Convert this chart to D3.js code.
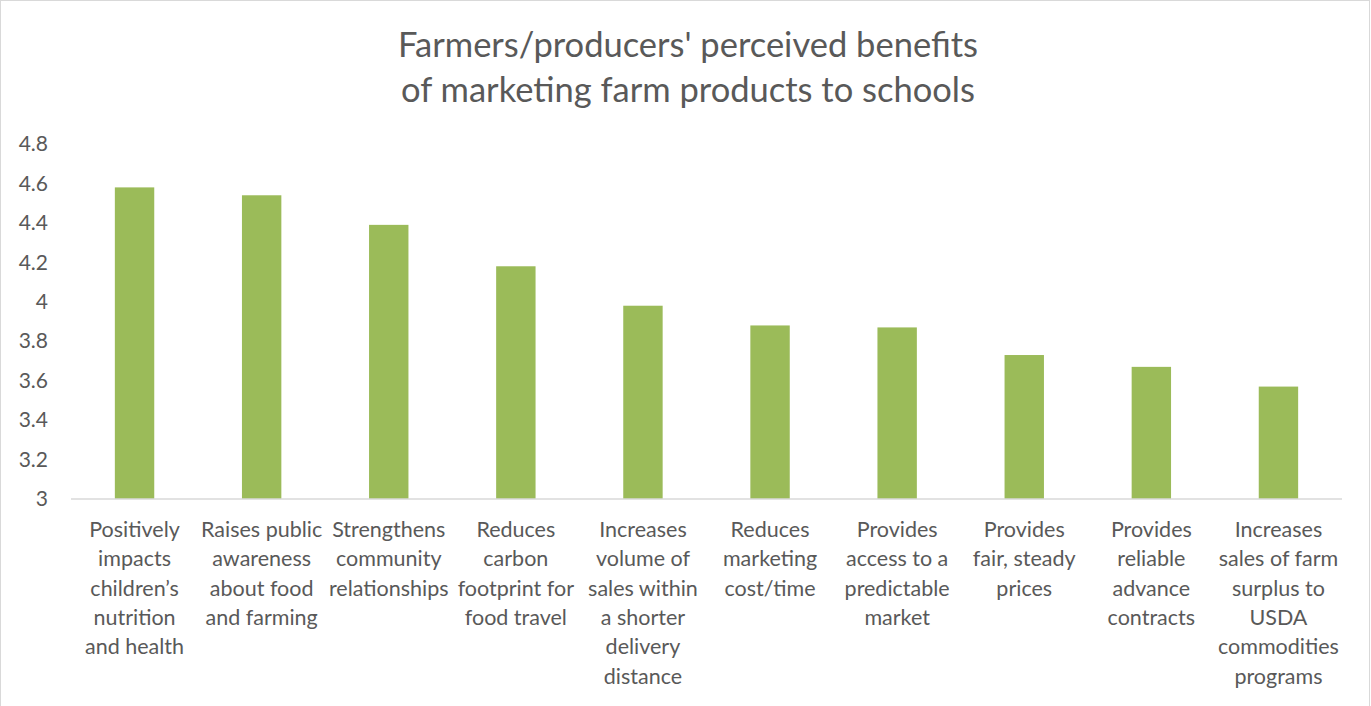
<!DOCTYPE html>
<html>
<head>
<meta charset="utf-8">
<script src="https://cdnjs.cloudflare.com/ajax/libs/d3/7.8.5/d3.min.js"></script>
<style>
	body { margin: 0; background: #fff; }
	svg text { font-family: Lato, "Open Sans", sans-serif; fill: #595959; }
</style>
</head>
<body>
<div id="chart"></div>
<script>
// chart data
const titleLines = ["Farmers/producers' perceived benefits", 'of marketing farm products to schools'];
const categories = [
	['Positively', 'impacts', 'children\u2019s', 'nutrition', 'and health'],
	['Raises public', 'awareness', 'about food', 'and farming'],
	['Strengthens', 'community', 'relationships'],
	['Reduces', 'carbon', 'footprint for', 'food travel'],
	['Increases', 'volume of', 'sales within', 'a shorter', 'delivery', 'distance'],
	['Reduces', 'marketing', 'cost/time'],
	['Provides', 'access to a', 'predictable', 'market'],
	['Provides', 'fair, steady', 'prices'],
	['Provides', 'reliable', 'advance', 'contracts'],
	['Increases', 'sales of farm', 'surplus to', 'USDA', 'commodities', 'programs']
];
const values = [4.58, 4.54, 4.39, 4.18, 3.98, 3.88, 3.87, 3.73, 3.67, 3.57];
const yTicks = [3, 3.2, 3.4, 3.6, 3.8, 4, 4.2, 4.4, 4.6, 4.8];

const width = 1371, height = 706;
const margin = {top: 144, right: 29, bottom: 207, left: 71};

const svg = d3.select('#chart').append('svg')
	.attr('width', width)
	.attr('height', height);

// chart border
svg.append('rect')
	.attr('x', 0.5).attr('y', 0.5)
	.attr('width', width - 2).attr('height', height + 5)
	.attr('fill', 'none')
	.attr('stroke', '#d9d9d9');

// title
svg.append('text')
	.attr('x', 688).attr('y', 57)
	.attr('text-anchor', 'middle')
	.style('font-size', '34.5px')
	.selectAll('tspan')
	.data(titleLines)
	.enter().append('tspan')
		.attr('x', 688)
		.attr('dy', (d, i) => i ? 45 : 0)
		.text(d => d);

// scales
const x = d3.scaleBand()
	.domain(d3.range(categories.length))
	.range([margin.left, width - margin.right])
	.paddingInner(0.69)
	.paddingOuter(0.345);

const y = d3.scaleLinear()
	.domain([3, 4.8])
	.range([height - margin.bottom, margin.top]);

// bars
svg.append('g')
	.selectAll('rect')
	.data(values)
	.enter().append('rect')
		.attr('x', (d, i) => x(i))
		.attr('y', d => y(d))
		.attr('width', x.bandwidth())
		.attr('height', d => y(3) - y(d))
		.attr('fill', '#9bbb59');

// y axis labels (no line, no ticks)
const yAxis = svg.append('g')
	.attr('transform', `translate(${margin.left},0)`)
	.call(d3.axisLeft(y).tickValues(yTicks).tickFormat(d3.format('')).tickSize(0).tickPadding(23));
yAxis.select('.domain').remove();
yAxis.selectAll('text')
	.style('font-size', '21px')
	.style('font-family', 'Lato, sans-serif')
	.attr('fill', '#595959');

// x axis line
svg.append('line')
	.attr('x1', margin.left).attr('x2', width - margin.right)
	.attr('y1', y(3)).attr('y2', y(3))
	.attr('stroke', '#d9d9d9')
	.attr('stroke-width', 1.5);

// category labels
const band = d3.scaleBand()
	.domain(d3.range(categories.length))
	.range([margin.left, width - margin.right]);

svg.append('g')
	.selectAll('text')
	.data(categories)
	.enter().append('text')
		.attr('text-anchor', 'middle')
		.style('font-size', '21.5px')
		.attr('y', y(3) + 38)
		.each(function(lines, i) {
			d3.select(this).selectAll('tspan')
				.data(lines)
				.enter().append('tspan')
					.attr('x', band(i) + band.bandwidth() / 2)
					.attr('dy', (d, j) => j ? 29.3 : 0)
					.text(d => d);
		});
</script>
</body>
</html>
